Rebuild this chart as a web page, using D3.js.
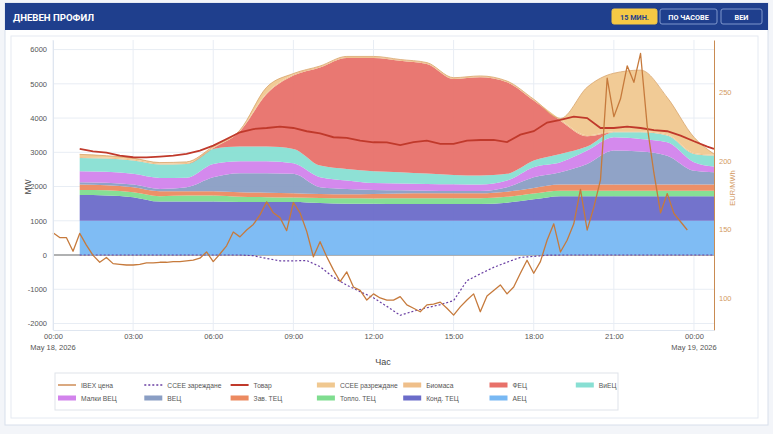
<!DOCTYPE html>
<html>
<head>
<meta charset="utf-8">
<script src="https://cdn.jsdelivr.net/npm/d3@7"></script>
<style>
  html, body { margin: 0; padding: 0; background: #f3f5f9; }
  svg { display: block; font-family: "Liberation Sans", Arial, sans-serif; }
</style>
</head>
<body>
<svg id="chart" width="773" height="434"></svg>
<script>
// --- data ---
// stacked generation, MW, hourly from 01:00 to 00:45 next day
const stackHours = [1,2,3,4,5,6,7,8,9,10,11,12,13,14,15,16,17,18,19,20,21,22,23,24,24.75];
const aec   = [1000,1000,1000,1000,1000,1000,1000,1000,1000,1000,1000,1000,1000,1000,1000,1000,1000,1000,1000,1000,1000,1000,1000,1000,1000];
const kond  = [750,740,690,560,560,560,550,550,550,520,500,500,490,490,490,490,530,630,720,720,720,720,720,720,720];
const toplo = [150,150,145,160,177,177,150,140,130,145,155,150,165,170,170,170,170,170,160,160,160,160,160,160,160];
const zav   = [160,150,145,143,126,126,130,130,125,115,120,135,145,145,145,145,150,160,178,178,178,178,178,178,178];
const vec   = [65,70,78,67,117,407,560,570,565,200,155,115,90,75,65,65,130,310,362,602,992,962,842,402,362];
const mvec  = [322,320,312,322,280,390,350,350,310,292,245,200,200,195,195,188,195,294,290,390,390,370,393,250,164];
const viec  = [389,390,388,390,400,440,427,427,420,340,340,350,330,305,275,262,195,194,243,117,145,195,195,243,320];
const fec   = [0,0,0,0,0,20,448,1533,2140,2868,3240,3305,3255,3200,2800,2870,2675,1752,972,300,0,0,0,0,0];
const bio   = [30,30,30,30,30,30,30,30,30,30,30,30,30,30,30,30,30,30,30,30,30,30,30,30,30];
const cceeDis = [74,50,42,28,30,20,5,170,30,10,15,15,5,10,10,10,5,10,35,1403,1695,1785,1082,457,16];

// load and storage charging, MW, half-hourly from 01:00
const halfHours = d3.range(1, 24.75, 0.5).concat([24.75]);
const load = [3100,3030,2990,2905,2855,2850,2875,2905,2953,3050,3196,3390,3585,3680,3710,3750,3710,3615,
  3556,3440,3420,3342,3293,3290,3210,3300,3342,3245,3245,3342,3360,3360,3300,3517,3615,3870,3945,4040,
  4000,3710,3710,3750,3710,3650,3615,3488,3322,3167,3100];
const cceeCharge = [0,0,0,0,0,0,0,0,0,0,0,0,0,-20,-100,-170,-170,-160,-340,-650,-880,-1070,-1250,-1500,
  -1760,-1640,-1540,-1450,-1330,-750,-550,-360,-210,-70,-40,-5,0,0,0,0,0,0,0,0,0,0,0,0,0];

// IBEX price, EUR/MWh, every 15 minutes from 00:00
const ibex = [147.5,144,144,134,147,138.5,131,126,129.5,125,124.5,124,124,124.5,125.5,125.5,
  126,126,126.5,126.5,127,127.5,129,133.5,126.5,132,138,148,144.5,149.5,153.5,160.5,
  170,162,158.5,149,169.5,162,148.5,130,141,130,120.5,112,119,108,105.5,98.5,
  103,100,98.5,98.5,101,95,92.5,90,95,95.5,97,92.5,87.5,93.5,98.5,103,
  90,101.5,105.5,109.5,103,108,118,127.5,118,126.5,142,154,133.5,142,154,179,
  149.5,166,186,260,232,245,269,257,278,225,191,162,176,161.5,155.5,149.5];

const mwTicks = [-2000,-1000,0,1000,2000,3000,4000,5000,6000];
const priceTicks = [100,150,200,250];
const hourTicks = [0,3,6,9,12,15,18,21,24];

const series = [
  { key: 'aec',     name: 'АЕЦ',        color: '#78b8f3', values: aec },
  { key: 'kond',    name: 'Конд. ТЕЦ',  color: '#6b6cc9', values: kond },
  { key: 'toplo',   name: 'Топло. ТЕЦ', color: '#7fdd8f', values: toplo },
  { key: 'zav',     name: 'Зав. ТЕЦ',   color: '#ec8a60', values: zav },
  { key: 'vec',     name: 'ВЕЦ',        color: '#8a9ec4', values: vec },
  { key: 'mvec',    name: 'Малки ВЕЦ',  color: '#d283ec', values: mvec },
  { key: 'viec',    name: 'ВиЕЦ',       color: '#88dfd3', values: viec },
  { key: 'fec',     name: 'ФЕЦ',        color: '#e8716a', values: fec },
  { key: 'bio',     name: 'Биомаса',    color: '#efbf8a', values: bio },
  { key: 'cceeDis', name: 'ССЕЕ разреждане', color: '#f0c890', values: cceeDis }
];

const t0 = new Date(2026, 4, 18, 0, 0);
const at = h => new Date(t0.getTime() + h * 3600e3);

// --- layout ---
const svg = d3.select('#chart');
const plot = { left: 53, right: 714, top: 40, bottom: 330 };

// card + header
svg.append('rect').attr('x', 5).attr('y', 3).attr('width', 763).attr('height', 422)
  .attr('fill', '#fff').attr('stroke', '#d8dfeb');
svg.append('rect').attr('x', 11).attr('y', 36).attr('width', 747).attr('height', 382)
  .attr('fill', '#fff').attr('stroke', '#e5eaf2');
svg.append('rect').attr('x', 5).attr('y', 3).attr('width', 763).attr('height', 27)
  .attr('fill', '#1f3f8d');
svg.append('text').attr('x', 13).attr('y', 20.5).text('ДНЕВЕН ПРОФИЛ')
  .attr('fill', '#fff').attr('font-family', 'Roboto, sans-serif').attr('font-weight', 700)
  .attr('font-size', 9.6);

const buttons = [
  { label: '15 МИН.', x: 612, w: 45, active: true },
  { label: 'ПО ЧАСОВЕ', x: 660, w: 57, active: false },
  { label: 'ВЕИ', x: 721, w: 41, active: false }
];
buttons.forEach(b => {
  svg.append('rect').attr('x', b.x).attr('y', 9).attr('width', b.w).attr('height', 15).attr('rx', 2)
    .attr('fill', b.active ? '#f6c945' : 'none')
    .attr('stroke', b.active ? '#f6c945' : '#7f97cc');
  svg.append('text').attr('x', b.x + b.w / 2).attr('y', 19.5).attr('text-anchor', 'middle')
    .text(b.label).attr('font-family', 'Roboto, sans-serif').attr('font-weight', 700)
    .attr('font-size', 7.3).attr('fill', b.active ? '#1f3f8d' : '#fff');
});

// scales
const x = d3.scaleTime().domain([at(0), at(24.75)]).range([plot.left, plot.right]);
const y = d3.scaleLinear().domain([-2190, 6280]).range([plot.bottom, plot.top]);
const y2 = d3.scaleLinear().domain([76.7, 287.8]).range([plot.bottom, plot.top]);

const g = svg.append('g');

// grid
g.selectAll('.vgrid').data(hourTicks).join('line')
  .attr('x1', d => x(at(d))).attr('x2', d => x(at(d)))
  .attr('y1', plot.top).attr('y2', plot.bottom)
  .attr('stroke', '#e8edf4').attr('stroke-width', 1);
g.selectAll('.hgrid').data(mwTicks).join('line')
  .attr('x1', plot.left).attr('x2', plot.right)
  .attr('y1', d => y(d)).attr('y2', d => y(d))
  .attr('stroke', '#e8edf4').attr('stroke-width', 1);

// zero line
g.append('line').attr('x1', plot.left).attr('x2', plot.right)
  .attr('y1', y(0)).attr('y2', y(0)).attr('stroke', '#9a9a9a').attr('stroke-width', 1.6);

// stacked areas
const rows = stackHours.map((h, i) => {
  const r = { t: at(h) };
  series.forEach(s => { r[s.key] = s.values[i]; });
  return r;
});
const stacked = d3.stack().keys(series.map(s => s.key))(rows);
const area = d3.area().curve(d3.curveMonotoneX)
  .x(d => x(d.data.t)).y0(d => y(d[0])).y1(d => y(d[1]));
const topLine = d3.line().curve(d3.curveMonotoneX).x(d => x(d.data.t)).y(d => y(d[1]));

stacked.forEach((layer, i) => {
  g.append('path').datum(layer).attr('d', area)
    .attr('fill', series[i].color).attr('fill-opacity', 0.95);
});
// thin outline on top of the stack
g.append('path').datum(stacked[stacked.length - 1]).attr('d', topLine)
  .attr('fill', 'none').attr('stroke', '#d8a46c').attr('stroke-width', 0.8);

// storage charging (dotted)
const halfRows = halfHours.map((h, i) => ({ t: at(h), load: load[i], charge: cceeCharge[i] }));
g.append('path').datum(halfRows)
  .attr('d', d3.line().x(d => x(d.t)).y(d => y(d.charge)))
  .attr('fill', 'none').attr('stroke', '#6a3fa3').attr('stroke-width', 1.2)
  .attr('stroke-dasharray', '2,2');

// load line
g.append('path').datum(halfRows)
  .attr('d', d3.line().x(d => x(d.t)).y(d => y(d.load)))
  .attr('fill', 'none').attr('stroke', '#c0392b').attr('stroke-width', 1.8);

// IBEX price on right axis
const priceRows = ibex.map((v, i) => ({ t: d3.timeMinute.offset(t0, i * 15), v }));
g.append('path').datum(priceRows)
  .attr('d', d3.line().x(d => x(d.t)).y(d => y2(d.v)))
  .attr('fill', 'none').attr('stroke', '#c67a3c').attr('stroke-width', 1.3)
  .attr('stroke-linejoin', 'round');

// axes
const leftAxis = g.append('g').attr('transform', `translate(${plot.left},0)`)
  .call(d3.axisLeft(y).tickValues(mwTicks).tickSize(0).tickPadding(6).tickFormat(d => String(d)));
leftAxis.select('.domain').attr('stroke', '#dfe6f0');
leftAxis.selectAll('text').attr('fill', '#555').attr('font-size', 7.5);

const rightAxis = g.append('g').attr('transform', `translate(${plot.right},0)`)
  .call(d3.axisRight(y2).tickValues(priceTicks).tickSize(0).tickPadding(5));
rightAxis.select('.domain').attr('stroke', '#c98b52').attr('stroke-width', 1);
rightAxis.selectAll('text').attr('fill', '#d39a63').attr('font-size', 7.5);

const fmt = d3.timeFormat('%H:%M');
const bottomAxis = g.append('g').attr('transform', `translate(0,${plot.bottom})`)
  .call(d3.axisBottom(x).tickValues(hourTicks.map(at)).tickSize(0).tickPadding(4).tickFormat(fmt));
bottomAxis.select('.domain').attr('stroke', '#dfe6f0');
bottomAxis.selectAll('text').attr('fill', '#555').attr('font-size', 7.5);
const dateFmt = d3.timeFormat('%b %-d, %Y');
[0, 24].forEach(h => {
  g.append('text').attr('x', x(at(h))).attr('y', plot.bottom + 20)
    .attr('text-anchor', 'middle').attr('font-size', 7.5).attr('fill', '#555')
    .text(dateFmt(at(h)));
});

// axis titles
svg.append('text').attr('transform', 'translate(31,187) rotate(-90)').attr('text-anchor', 'middle')
  .attr('font-size', 8.5).attr('fill', '#444').text('MW');
svg.append('text').attr('x', 383).attr('y', 365).attr('text-anchor', 'middle')
  .attr('font-size', 9).attr('fill', '#444').text('Час');
svg.append('text').attr('transform', 'translate(735,188) rotate(-90)').attr('text-anchor', 'middle')
  .attr('font-size', 7.5).attr('fill', '#d39a63').text('EUR/MWh');

// legend
const legendItems = [
  { name: 'IBEX цена', type: 'line', color: '#c67a3c' },
  { name: 'ССЕЕ зареждане', type: 'dot', color: '#6a3fa3' },
  { name: 'Товар', type: 'line', color: '#c0392b', width: 2 },
  { name: 'ССЕЕ разреждане', type: 'area', color: '#f0c890' },
  { name: 'Биомаса', type: 'area', color: '#efbf8a' },
  { name: 'ФЕЦ', type: 'area', color: '#e8716a' },
  { name: 'ВиЕЦ', type: 'area', color: '#88dfd3' },
  { name: 'Малки ВЕЦ', type: 'area', color: '#d283ec' },
  { name: 'ВЕЦ', type: 'area', color: '#8a9ec4' },
  { name: 'Зав. ТЕЦ', type: 'area', color: '#ec8a60' },
  { name: 'Топло. ТЕЦ', type: 'area', color: '#7fdd8f' },
  { name: 'Конд. ТЕЦ', type: 'area', color: '#6b6cc9' },
  { name: 'АЕЦ', type: 'area', color: '#78b8f3' }
];
svg.append('rect').attr('x', 55).attr('y', 373).attr('width', 563).attr('height', 37)
  .attr('fill', '#fff').attr('stroke', '#dfe3ea');
const leg = svg.append('g');
legendItems.forEach((it, i) => {
  const col = i % 7, row = Math.floor(i / 7);
  const lx = 58 + col * 86.3, ly = 385 + row * 13;
  if (it.type === 'area') {
    leg.append('rect').attr('x', lx).attr('y', ly - 2.5).attr('width', 18).attr('height', 5)
      .attr('fill', it.color);
  } else {
    leg.append('line').attr('x1', lx).attr('x2', lx + 18).attr('y1', ly).attr('y2', ly)
      .attr('stroke', it.color).attr('stroke-width', it.width || 1.3)
      .attr('stroke-dasharray', it.type === 'dot' ? '2,2' : null);
  }
  leg.append('text').attr('x', lx + 23).attr('y', ly + 2.5).attr('font-size', 6.7)
    .attr('fill', '#555').text(it.name);
});
</script>
</body>
</html>
